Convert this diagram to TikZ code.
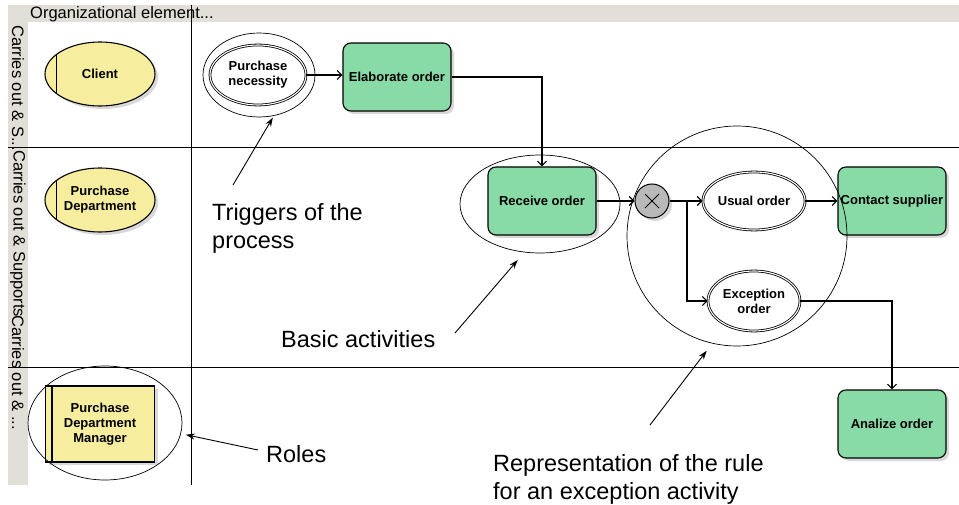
\documentclass[tikz,border=0pt]{standalone}
\usepackage{fontspec}
\setmainfont{Liberation Sans}
\usetikzlibrary{arrows.meta,shapes.geometric,shadows}
\definecolor{actgreen}{RGB}{136,218,166}
\definecolor{orgyellow}{RGB}{246,237,158}
\definecolor{bandgray}{RGB}{226,222,216}
\tikzset{>={Straight Barb[length=4.5pt,width=9pt]}}
\tikzset{
  boxfont/.style={font=\fontsize{13}{15}\selectfont\bfseries},
  shade3/.style={drop shadow={shadow xshift=3pt,shadow yshift=-3pt,fill=black!30}},
  activity/.style={draw, rounded corners=8pt, fill=actgreen, line width=1.1pt,
    minimum width=108pt, minimum height=68pt, inner sep=0pt, boxfont, shade3},
  orgunit/.style={ellipse, draw, fill=orgyellow, line width=1.1pt, minimum width=110pt,
    minimum height=64pt, inner sep=0pt, align=center, boxfont, shade3},
  role/.style={draw, fill=orgyellow, line width=1.1pt, minimum width=109pt,
    minimum height=76pt, inner sep=0pt, align=center, boxfont, shade3},
  event/.style={ellipse, draw, double, double distance=1.1pt, line width=0.8pt,
    fill=white, minimum width=92pt, minimum height=58pt, inner sep=0pt,
    align=center, boxfont},
  ring/.style={ellipse, draw, line width=0.7pt, inner sep=0pt},
  flow/.style={->, line width=1.1pt},
  note/.style={-{Stealth[length=9pt,width=6pt]}, line width=0.9pt},
  remark/.style={anchor=north west, inner sep=0pt, align=left,
    font=\fontsize{23.5}{28}\selectfont},
  caption/.style={inner sep=0pt, font=\fontsize{16.5}{18}\selectfont},
  lane/.style={line width=0.8pt},
}

\begin{document}
\begin{tikzpicture}[x=1pt,y=-1pt]
  \useasboundingbox (0,0) rectangle (959,505);

  % header and lane captions
  \fill[bandgray] (8,5) rectangle (959,22);
  \fill[bandgray] (8,22) rectangle (28,485);
  \node[caption, anchor=west] (head) at (30,14) {Organizational element...};
  \node[caption, rotate=-90, anchor=west] (cap1) at (18,25) {Carries out \& S...};
  \node[caption, rotate=-90, anchor=west] (cap2) at (18,150) {Carries out \& Supports};
  \node[caption, rotate=-90, anchor=west] (cap3) at (18,315) {Carries out \& ...};

  \draw[lane] (8,147) -- (959,147);
  \draw[lane] (8,367) -- (959,367);
  \draw[lane] (191,5) -- (191,485);

  % organizational units
  \node[orgunit] (client) at (100,74) {Client};
  \draw[line width=1.1pt] (client.155) -- (client.205);
  \node[orgunit] (purdep) at (100,200) {Purchase\\Department};
  \draw[line width=1.1pt] (purdep.155) -- (purdep.205);
  \node[role] (manager) at (100,424) {Purchase\\Department\\Manager};
  \draw[line width=1.1pt] ([xshift=7pt]manager.north west) -- ([xshift=7pt]manager.south west);

  % process
  \node[event, minimum width=96pt, minimum height=60pt] (need) at (258,75) {Purchase\\necessity};
  \node[activity] (elab) at (397,77) {Elaborate order};
  \node[activity] (recv) at (542,201) {Receive order};
  \node[circle, draw, fill=gray!55, line width=1pt, minimum size=34pt, shade3] (xor) at (652,201) {};
  \draw[line width=0.8pt] ([shift={(-7,-7)}]xor.center) -- ([shift={(7,7)}]xor.center);
  \draw[line width=0.8pt] ([shift={(-7,7)}]xor.center) -- ([shift={(7,-7)}]xor.center);
  \node[event] (usual) at (754,201) {Usual order};
  \node[event, minimum height=60pt] (exc) at (754,301) {Exception\\order};
  \node[activity] (contact) at (892,201) {Contact supplier};
  \node[activity] (analize) at (892,424) {Analize order};

  \draw[flow] (need.east) -- (need.east -| elab.west);
  \draw[flow] (elab.east) -| (recv.north);
  \draw[flow] (recv.east) -- (xor.west);
  \draw[flow] (xor.east) -- (usual.west);
  \coordinate (split) at (687,201);
  \draw[flow] (split) |- (exc.west);
  \draw[flow] (usual.east) -- (contact.west);
  \draw[flow] (exc.east) -| (analize.north);

  % highlights
  \node[ring, minimum width=112pt, minimum height=84pt] (needring) at (259,75) {};
  \node[ring, minimum width=160pt, minimum height=98pt] (recvring) at (540,204) {};
  \node[ring, circle, minimum size=220pt] (rulering) at (737,236) {};
  \node[ring, minimum width=154pt, minimum height=114pt] (rolering) at (105,423) {};

  % remarks
  \node[remark] (trigtxt) at (212,203) {Triggers of the\\process};
  \node[remark] (basictxt) at (281,330) {Basic activities};
  \node[remark] (ruletxt) at (493,454) {Representation of the rule\\for an exception activity};
  \node[remark] (roletxt) at (266,445) {Roles};

  \coordinate (trigtail) at (233,185);
  \coordinate (basictail) at (455,333);
  \coordinate (ruletail) at (650,425);
  \coordinate (roletail) at (258,450);
  \draw[note, shorten >=2pt] (trigtail) -- (needring.-70);
  \draw[note, shorten >=10pt] (basictail) -- (recvring.-108);
  \draw[note, shorten >=9pt] (ruletail) -- (rulering.-103);
  \draw[note, shorten >=5pt] (roletail) -- (rolering.-8);
\end{tikzpicture}
\end{document}
